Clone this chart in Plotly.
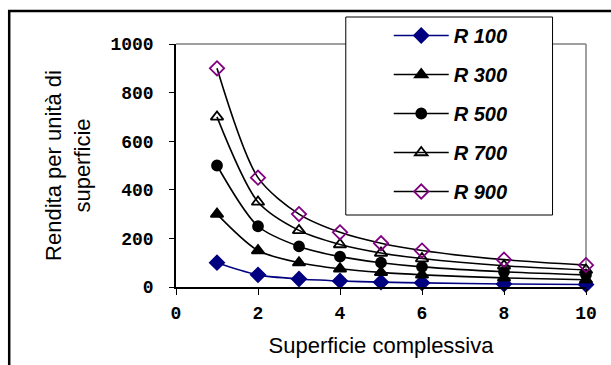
import plotly.graph_objects as go

x_vals = [1, 2, 3, 4, 5, 6, 8, 10]
r100 = [100, 50, 33, 25, 20, 17, 12.5, 10]
r300 = [300, 150, 100, 75, 60, 50, 37.5, 30]
r500 = [500, 250, 167, 125, 100, 83, 62.5, 50]
r700 = [700, 350, 233, 175, 140, 117, 87.5, 70]
r900 = [900, 450, 300, 225, 180, 150, 112.5, 90]
series_names = ["R 100", "R 300", "R 500", "R 700", "R 900"]
x_ticks = [0, 2, 4, 6, 8, 10]
y_ticks = [0, 200, 400, 600, 800, 1000]

styles = [
    dict(color="#000080", symbol="diamond", size=11, mline="#000080", mfill="#000080"),
    dict(color="#000000", symbol="triangle-up", size=11, mline="#000000", mfill="#000000"),
    dict(color="#000000", symbol="circle", size=10, mline="#000000", mfill="#000000"),
    dict(color="#000000", symbol="triangle-up-open", size=11, mline="#000000", mfill="#000000"),
    dict(color="#000000", symbol="diamond-open", size=11, mline="#800080", mfill="#800080"),
]

fig = go.Figure()
for name, ys, st in zip(series_names, [r100, r300, r500, r700, r900], styles):
    fig.add_trace(go.Scatter(
        x=x_vals, y=ys, name=name, mode="lines+markers",
        legendgroup=name,
        line=dict(color=st["color"], width=1.6, shape="spline", smoothing=0.8),
        marker=dict(symbol=st["symbol"], size=st["size"], color=st["mfill"],
                    line=dict(color=st["mline"], width=1.8)),
        cliponaxis=False,
    ))

L, R, T, B = 176, 24.5, 44, 78
W, H = 611, 365
pw, ph = W - L - R, H - T - B

def px2x(px):
    return (px - L) / pw

def px2y(py):
    return (H - B - py) / ph

shapes = [
    # outer frame
    dict(type="rect", xref="paper", yref="paper",
         x0=px2x(9), x1=px2x(640), y0=px2y(11), y1=px2y(400),
         line=dict(color="black", width=2.5), fillcolor="rgba(0,0,0,0)", layer="below"),
    # plot area gray top/right
    dict(type="line", xref="paper", yref="paper", x0=0, x1=1, y0=1, y1=1,
         line=dict(color="#808080", width=1.5), layer="below"),
    dict(type="line", xref="paper", yref="paper", x0=1, x1=1, y0=0, y1=1,
         line=dict(color="#808080", width=1.5), layer="below"),
    # legend box
    dict(type="rect", xref="paper", yref="paper",
         x0=px2x(346), x1=px2x(553), y0=px2y(17), y1=px2y(215),
         line=dict(color="black", width=1), fillcolor="white", layer="above"),
]

fig.update_layout(
    width=W, height=H,
    margin=dict(l=L, r=R, t=T, b=B),
    paper_bgcolor="white", plot_bgcolor="white",
    font=dict(family="Arial, Liberation Sans", color="black"),
    shapes=shapes,
    showlegend=True,
    legend=dict(
        x=px2x(389), y=px2y(16), xanchor="left", yanchor="top",
        bgcolor="rgba(0,0,0,0)", borderwidth=0,
        font=dict(family="Arial, Liberation Sans", size=20, weight="bold", style="italic"),
        itemwidth=55, tracegroupgap=10, maxheight=360,
    ),
    xaxis=dict(
        range=[0, 10], tickvals=x_ticks, ticks="outside", ticklen=6, tickwidth=1,
        tickcolor="black", showline=True, linecolor="black", linewidth=1.5,
        showgrid=False, zeroline=False, ticklabelstandoff=3, automargin=False,
        tickfont=dict(family="Liberation Mono, Courier New", size=18, weight="bold"),
        title=dict(text="Superficie complessiva", font=dict(size=22), standoff=14),
    ),
    yaxis=dict(
        range=[0, 1000], tickvals=y_ticks, ticks="outside", ticklen=5, tickwidth=1,
        tickcolor="black", showline=True, linecolor="black", linewidth=1.5,
        showgrid=False, zeroline=False, ticklabelstandoff=12, automargin=False,
        tickfont=dict(family="Liberation Mono, Courier New", size=18, weight="bold"),
        title=dict(text="Rendita per unità di<br>superficie", font=dict(size=22), standoff=14),
    ),
)

fig.write_html("out.html")
